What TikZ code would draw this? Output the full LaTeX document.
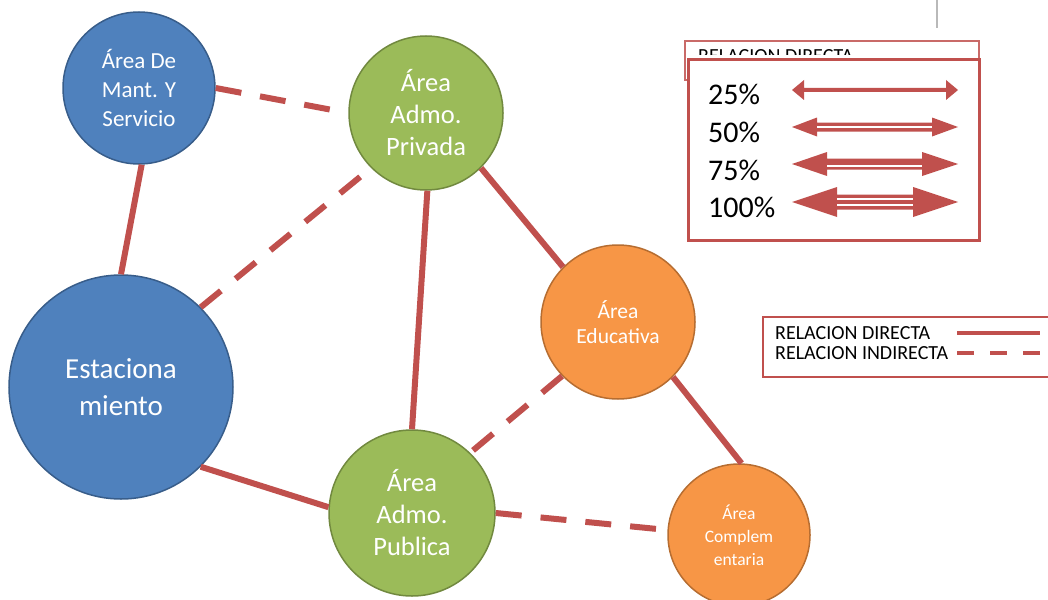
\documentclass[tikz,border=0pt]{standalone}
\usepackage{fontspec}
\setmainfont{Carlito}
\definecolor{rel}{HTML}{C0504D}
\definecolor{bfill}{HTML}{4F81BD}
\definecolor{bdraw}{HTML}{385D8A}
\definecolor{gfill}{HTML}{9BBB59}
\definecolor{gdraw}{HTML}{71893F}
\definecolor{ofill}{HTML}{F79646}
\definecolor{odraw}{HTML}{B66D31}
\newcommand\pctarrow[5]{%
  \fill[rel] (792,#1) -- (792+#2,#1-#4) -- (792+#2,#1-#5) -- (958-#3,#1-#5) -- (958-#3,#1-#4)
    -- (958,#1) -- (958-#3,#1+#4) -- (958-#3,#1+#5) -- (792+#2,#1+#5) -- (792+#2,#1+#4) -- cycle;}
\begin{document}
\begin{tikzpicture}[x=1pt,y=-1pt,
  area/.style={circle, inner sep=0pt, line width=1.5pt, text=white, align=center},
  bluearea/.style={area, fill=bfill, draw=bdraw},
  greenarea/.style={area, fill=gfill, draw=gdraw},
  orangearea/.style={area, fill=ofill, draw=odraw},
  direct/.style={draw=rel, line width=6pt},
  indirect/.style={draw=rel, line width=6pt, dash pattern=on 26pt off 19pt},
  legtext/.style={inner sep=0pt, font=\fontsize{20}{24}\selectfont},
  pcttext/.style={inner sep=0pt, anchor=base west, font=\fontsize{30}{36}\selectfont},
  whiteline/.style={draw=white, line width=1.2pt}
]
\useasboundingbox (0,0) rectangle (1048,599);

% nodes
\node[bluearea, minimum size=152pt, font=\fontsize{23}{29}\selectfont] (mant) at (139,88) {Área De\\Mant. Y\\Servicio};
\node[bluearea, minimum size=224pt, font=\fontsize{29}{37}\selectfont] (estac) at (121,387) {Estaciona\\miento};
\node[greenarea, minimum size=154pt, font=\fontsize{26.5}{32}\selectfont] (priv) at (426,113) {Área\\Admo.\\Privada};
\node[orangearea, minimum size=154pt, font=\fontsize{21.5}{25}\selectfont] (educ) at (618,322) {Área\\Educativa};
\node[greenarea, minimum size=166pt, font=\fontsize{26.5}{32}\selectfont] (pub) at (412,513) {Área\\Admo.\\Publica};
\node[orangearea, minimum size=142pt, font=\fontsize{17.5}{23}\selectfont] (compl) at (739,535) {Área\\Complem\\entaria};

% connectors
\draw[direct] (mant.-88) -- (estac.90);
\draw[indirect] (mant.0) -- (priv.180);
\draw[indirect] (estac.45) -- (priv.-135);
\draw[direct] (priv.-89) -- (pub.90);
\draw[direct] (priv.-45) -- (educ.135);
\draw[indirect] (educ.-136) -- (pub.46);
\draw[direct] (educ.-45) -- (compl.88);
\draw[direct] (estac.-45) -- (pub.176);
\draw[indirect] (pub.0) -- (compl.176);

% top gray line
\coordinate (g1) at (937,0);
\coordinate (g2) at (937,28);
\draw[gray!55, line width=1.5pt] (g1) -- (g2);

% back legend box (partly hidden)
\draw[rel!85, line width=1.2pt] (685,41) rectangle (979,80);
\begin{scope}
  \clip (686,42) rectangle (978,55);
  \node[legtext, anchor=base west] (backtxt) at (698,63) {RELACION DIRECTA};
\end{scope}

% front legend box
\draw[rel, line width=3pt, fill=white] (688,60) rectangle (979,240);
\node[pcttext] (p25) at (708,105) {25\%};
\node[pcttext] (p50) at (708,142) {50\%};
\node[pcttext] (p75) at (708,180) {75\%};
\node[pcttext] (p100) at (708,217) {100\%};

\pctarrow{90}{12}{12}{10}{2}
\pctarrow{127}{25}{26}{9.5}{4.5}
\draw[whiteline] (817,127) -- (932,127);
\pctarrow{164}{35}{36}{12}{5.5}
\draw[whiteline] (827,166) -- (922,166);
\pctarrow{202}{45}{45}{15}{7.5}
\draw[whiteline] (837,199) -- (913,199);
\draw[whiteline] (837,205) -- (913,205);

% second legend
\draw[rel, line width=1.2pt] (1050,317) -- (763,317) -- (763,377) -- (1050,377);
\node[legtext, anchor=west] (ld) at (775,333) {RELACION DIRECTA};
\node[legtext, anchor=west] (li) at (775,353) {RELACION INDIRECTA};
\coordinate (ld1) at (957,333);
\coordinate (ld2) at (1040,333);
\coordinate (li1) at (957,353);
\coordinate (li2) at (1040,353);
\draw[draw=rel, line width=4pt] (ld1) -- (ld2);
\draw[draw=rel, line width=4pt, dash pattern=on 17pt off 16pt] (li1) -- (li2);
\end{tikzpicture}
\end{document}
